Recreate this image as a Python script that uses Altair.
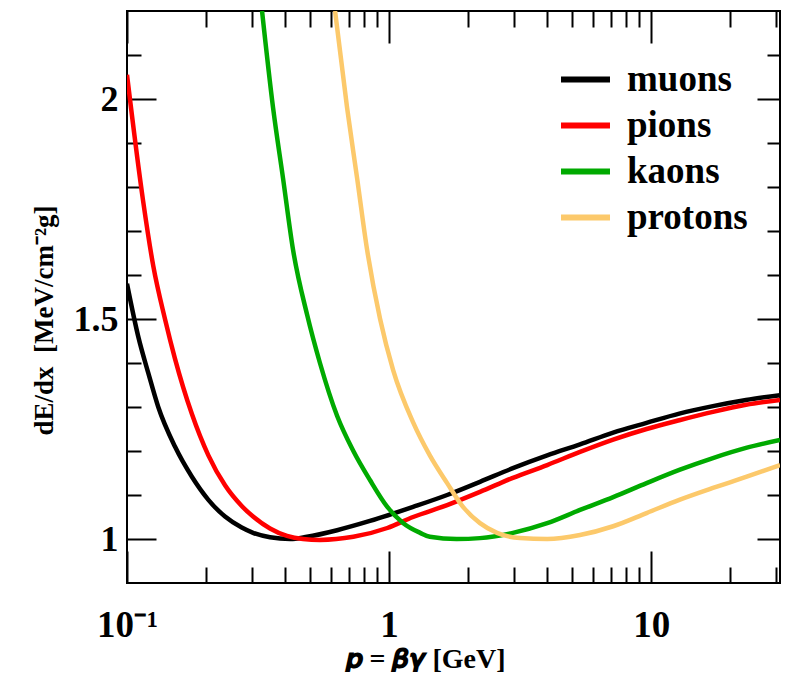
import altair as alt
import pandas as pd

# ---------------- data ----------------
particles = ["muons", "pions", "kaons", "protons"]
colors = ["#000000", "#ff0000", "#00aa00", "#fcc96b"]

muons_p = [0.1, 0.1104, 0.1206, 0.1316, 0.1524, 0.1766, 0.2044, 0.2366, 0.274, 0.3027,
           0.3513, 0.4193, 0.4862, 0.6331, 0.8451, 1.235, 1.665, 2.222, 2.967, 4.01,
           5.35, 7.16, 9.6, 12.8, 17.2, 23.0, 31.0]
muons_v = [1.58, 1.46, 1.377, 1.30, 1.21, 1.142, 1.089, 1.051, 1.026, 1.014,
           1.004, 1.000, 1.005, 1.020, 1.041, 1.073, 1.100, 1.130, 1.161, 1.190,
           1.215, 1.242, 1.264, 1.285, 1.302, 1.316, 1.327]

pions_p = [0.1, 0.1151, 0.126, 0.1396, 0.1524, 0.1766, 0.2044, 0.2366, 0.274, 0.3027,
           0.3513, 0.4077, 0.4693, 0.5447, 0.7304, 0.9843, 1.235, 1.665, 2.222, 2.967,
           4.01, 5.35, 7.16, 9.6, 12.8, 17.2, 23.0, 31.0]
pions_v = [2.055, 1.77, 1.62, 1.50, 1.41, 1.285, 1.19, 1.122, 1.075, 1.051,
           1.024, 1.007, 1.0, 0.998, 1.005, 1.025, 1.05, 1.077, 1.107, 1.139,
           1.168, 1.198, 1.226, 1.250, 1.270, 1.289, 1.305, 1.316]

kaons_p = [0.3275, 0.3608, 0.3938, 0.4301, 0.4864, 0.5447, 0.6331, 0.7304, 0.8451, 0.9843,
           1.133, 1.314, 1.43, 1.81, 2.222, 2.967, 4.01, 5.35, 7.16, 9.6,
           12.8, 17.2, 23.0, 31.0]
kaons_v = [2.2, 1.98, 1.82, 1.657, 1.51, 1.40, 1.28, 1.20, 1.134, 1.073,
           1.036, 1.014, 1.005, 1.0, 1.002, 1.014, 1.036, 1.066, 1.095, 1.127,
           1.157, 1.184, 1.207, 1.225]

protons_p = [0.622, 0.6913, 0.755, 0.8244, 0.9239, 1.036, 1.235, 1.43, 1.665, 1.914,
             2.222, 2.58, 3.16, 4.01, 5.35, 7.16, 9.6, 12.8, 17.2, 23.0, 31.0]
protons_v = [2.2, 1.98, 1.82, 1.657, 1.50, 1.384, 1.265, 1.19, 1.127, 1.073,
             1.036, 1.014, 1.002, 1.0, 1.009, 1.029, 1.059, 1.089, 1.116, 1.141, 1.168]

x_major = [0.1, 1, 10]
x_minor = [0.2, 0.3, 0.4, 0.5, 0.6, 0.7, 0.8, 0.9,
           2, 3, 4, 5, 6, 7, 8, 9, 20, 30]
y_major = [1, 1.5, 2]
y_minor = [1.1, 1.2, 1.3, 1.4, 1.6, 1.7, 1.8, 1.9, 2.1]

x_title = "𝒑 = 𝜷𝜸 [GeV]"
y_title = "dE/dx \u00a0[MeV/cm⁻²g]"

rows = []
for name, ps, vs in zip(particles, [muons_p, pions_p, kaons_p, protons_p],
                        [muons_v, pions_v, kaons_v, protons_v]):
    for p, v in zip(ps, vs):
        rows.append({"p": p, "dEdx": v, "particle": name})
df = pd.DataFrame(rows)

FONT = "Liberation Serif"
xs = alt.Scale(type="log", domain=[0.1, 31.0], nice=False)
ys = alt.Scale(domain=[0.9, 2.2], nice=False, zero=False)


def guide(orient, values, size, **kw):
    opts = dict(orient=orient, values=values, tickSize=size, offset=-size,
                domain=False, grid=False, ticks=True, tickColor="black",
                tickWidth=2)
    opts.update(kw)
    if "labels" not in kw:
        opts["labels"] = False
    if "title" not in kw:
        opts["title"] = None
    return alt.Axis(**opts)


bottom_major = guide(
    "bottom", x_major, 32, labels=True,
    labelExpr="datum.value < 0.5 ? '10⁻¹' : (datum.value < 5 ? '1' : '10')",
    labelFont=FONT, labelFontSize=37, labelFontWeight="bold", labelColor="black",
    labelPadding=24, labelFlush=False, labelOverlap=False,
    title=x_title, titleFont=FONT, titleFontSize=28, titleFontWeight="bold",
    titleColor="black", titleX=298, titlePadding=2)
left_major = guide(
    "left", y_major, 29, labels=True, format="~g",
    labelFont=FONT, labelFontSize=36, labelFontWeight="bold", labelColor="black",
    labelPadding=9, labelOverlap=False,
    title=y_title, titleFont=FONT, titleFontSize=27, titleFontWeight="bold",
    titleColor="black", titleY=309, titlePadding=15)

color = alt.Color(
    "particle:N",
    scale=alt.Scale(domain=particles, range=colors),
    legend=alt.Legend(orient="none", legendX=431, legendY=41, title=None,
                      symbolType="stroke", symbolSize=2400, symbolStrokeWidth=6,
                      labelFont=FONT, labelFontSize=37, labelFontWeight="bold",
                      labelColor="black", labelOffset=14, rowPadding=-5,
                      padding=0, labelLimit=300),
)

base = alt.Chart(df)

lines = base.mark_line(strokeWidth=4.5, clip=True, interpolate="monotone").encode(
    x=alt.X("p:Q", scale=xs, axis=bottom_major),
    y=alt.Y("dEdx:Q", scale=ys, axis=left_major),
    color=color,
)

minor_bl = base.mark_point(opacity=0).encode(
    x=alt.X("p:Q", scale=xs, axis=guide("bottom", x_minor, 16)),
    y=alt.Y("dEdx:Q", scale=ys, axis=guide("left", y_minor, 14)),
)
major_tr = base.mark_point(opacity=0).encode(
    x=alt.X("p:Q", scale=xs, axis=guide("top", x_major, 32)),
    y=alt.Y("dEdx:Q", scale=ys, axis=guide("right", y_major, 23)),
)
minor_tr = base.mark_point(opacity=0).encode(
    x=alt.X("p:Q", scale=xs, axis=guide("top", x_minor, 16)),
    y=alt.Y("dEdx:Q", scale=ys, axis=guide("right", y_minor, 13)),
)

chart = (
    alt.layer(lines, minor_bl, major_tr, minor_tr)
    .resolve_axis(x="independent", y="independent")
    .properties(width=653, height=572, autosize=alt.AutoSizeParams(type="none"),
                padding={"left": 119, "top": 3, "right": 10, "bottom": 89},
                background="white")
    .configure_view(stroke="black", strokeWidth=2)
)

chart.save("out.html", embed_options={"renderer": "svg", "actions": False})
